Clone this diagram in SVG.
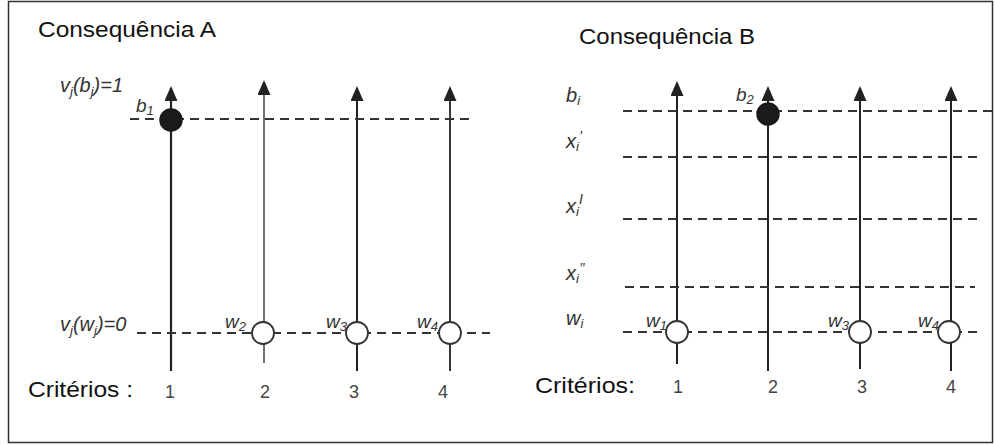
<svg xmlns="http://www.w3.org/2000/svg" width="995" height="445" viewBox="0 0 995 445">
<style>
.title{font-family:"Liberation Sans",Arial,sans-serif;font-size:22px;fill:#111}
.crit{font-family:"Liberation Sans",Arial,sans-serif;font-size:22px;fill:#111}
.num{font-family:"Liberation Sans",Arial,sans-serif;font-size:18px;fill:#444}
.lab{font-family:"Liberation Sans",Arial,sans-serif;font-style:italic;font-size:20px;fill:#333}
.small{font-family:"Liberation Sans",Arial,sans-serif;font-style:italic;font-size:19px;fill:#333}
.axis{stroke:#222;stroke-width:2;fill:none}
.dash{stroke:#333;stroke-width:2;stroke-dasharray:9 6;fill:none}
.full{fill:#1a1a1a;stroke:#1a1a1a;stroke-width:1.5}
.empty{fill:#fff;stroke:#333;stroke-width:1.8}
</style>
<defs>
<marker id="arr" markerUnits="userSpaceOnUse" markerWidth="15" markerHeight="13" viewBox="0 0 15 13" refX="13" refY="6.5" orient="auto">
<path d="M0,0 L15,6.5 L0,13 Z" fill="#222"/>
</marker>
</defs>
<rect x="8.5" y="1.5" width="984" height="441" fill="#fff" stroke="#333" stroke-width="1.5"/>

<g id="connectors">
<line class="axis" x1="171" y1="371" x2="171" y2="88" marker-end="url(#arr)" style="stroke-width:2.2"/>
<line class="axis" x1="264" y1="363" x2="264" y2="82" marker-end="url(#arr)" style="stroke-width:1.3"/>
<line class="axis" x1="357" y1="371" x2="357" y2="88" marker-end="url(#arr)"/>
<line class="axis" x1="450" y1="371" x2="450" y2="88" marker-end="url(#arr)" style="stroke-width:1.8"/>
<line class="dash" x1="130" y1="119" x2="475" y2="119"/>
<line class="dash" x1="137" y1="333" x2="490" y2="333"/>
<line class="axis" x1="677" y1="364" x2="677" y2="83" marker-end="url(#arr)"/>
<line class="axis" x1="768" y1="371" x2="768" y2="88" marker-end="url(#arr)"/>
<line class="axis" x1="860" y1="369" x2="860" y2="88" marker-end="url(#arr)"/>
<line class="axis" x1="951" y1="371" x2="951" y2="88" marker-end="url(#arr)"/>
<line class="dash" x1="623" y1="111" x2="992" y2="111"/>
<line class="dash" x1="623" y1="157" x2="977" y2="157"/>
<line class="dash" x1="623" y1="219" x2="982" y2="219"/>
<line class="dash" x1="625" y1="287" x2="975" y2="287"/>
<line class="dash" x1="623" y1="332" x2="982" y2="332"/>
</g>

<g id="titles">
<text class="title" x="38" y="37" textLength="178" lengthAdjust="spacingAndGlyphs">Consequência A</text>
<text class="title" x="579" y="44" textLength="176" lengthAdjust="spacingAndGlyphs">Consequência B</text>
</g>

<g id="panelA-labels">
<text class="lab" x="60" y="92">v<tspan font-size="13" dy="4">j</tspan><tspan dy="-4">(b</tspan><tspan font-size="13" dy="4">j</tspan><tspan dy="-4">)=1</tspan></text>
<text class="lab" x="60" y="331">v<tspan font-size="13" dy="4">j</tspan><tspan dy="-4">(w</tspan><tspan font-size="13" dy="4">j</tspan><tspan dy="-4">)=0</tspan></text>
</g>

<g id="nodeA-b1">
<circle class="full" cx="171" cy="120" r="11"/>
<text class="small" x="136" y="112">b<tspan font-size="13" dy="3">1</tspan></text>
</g>
<g id="nodeA-w2">
<circle class="empty" cx="263" cy="333" r="11"/>
<text class="small" x="225" y="328">w<tspan font-size="13" dy="3">2</tspan></text>
</g>
<g id="nodeA-w3">
<circle class="empty" cx="357" cy="333" r="11"/>
<text class="small" x="326" y="328">w<tspan font-size="13" dy="3">3</tspan></text>
</g>
<g id="nodeA-w4">
<circle class="empty" cx="450" cy="333" r="11"/>
<text class="small" x="417" y="328">w<tspan font-size="13" dy="3">4</tspan></text>
</g>

<g id="panelA-criteria">
<text class="crit" x="28" y="397" textLength="105" lengthAdjust="spacingAndGlyphs">Critérios :</text>
<text class="num" x="170" y="398" text-anchor="middle">1</text>
<text class="num" x="265" y="398" text-anchor="middle">2</text>
<text class="num" x="354" y="398" text-anchor="middle">3</text>
<text class="num" x="443" y="398" text-anchor="middle">4</text>
</g>

<g id="panelB-labels">
<text class="lab" x="566" y="102">b<tspan font-size="13" dy="3">i</tspan></text>
<text class="lab" x="566" y="148">x<tspan font-size="13" dy="3">i</tspan><tspan dy="-10" font-size="14">’</tspan></text>
<text class="lab" x="566" y="213">x<tspan font-size="13" dy="3">i</tspan><tspan dy="-12" font-size="14">I</tspan></text>
<text class="lab" x="566" y="280">x<tspan font-size="13" dy="3">i</tspan><tspan dy="-10" font-size="14">’’</tspan></text>
<text class="lab" x="566" y="325">w<tspan font-size="13" dy="3">i</tspan></text>
</g>

<g id="nodeB-b2">
<circle class="full" cx="768" cy="114" r="11"/>
<text class="small" x="736" y="101">b<tspan font-size="13" dy="3">2</tspan></text>
</g>
<g id="nodeB-w1">
<circle class="empty" cx="677" cy="332" r="11"/>
<text class="small" x="646" y="327">w<tspan font-size="13" dy="3">1</tspan></text>
</g>
<g id="nodeB-w3">
<circle class="empty" cx="860" cy="332" r="11"/>
<text class="small" x="828" y="327">w<tspan font-size="13" dy="3">3</tspan></text>
</g>
<g id="nodeB-w4">
<circle class="empty" cx="949" cy="332" r="11"/>
<text class="small" x="918" y="327">w<tspan font-size="13" dy="3">4</tspan></text>
</g>

<g id="panelB-criteria">
<text class="crit" x="535" y="393" textLength="100" lengthAdjust="spacingAndGlyphs">Critérios:</text>
<text class="num" x="678" y="393" text-anchor="middle">1</text>
<text class="num" x="773" y="393" text-anchor="middle">2</text>
<text class="num" x="862" y="393" text-anchor="middle">3</text>
<text class="num" x="951" y="393" text-anchor="middle">4</text>
</g>
</svg>
